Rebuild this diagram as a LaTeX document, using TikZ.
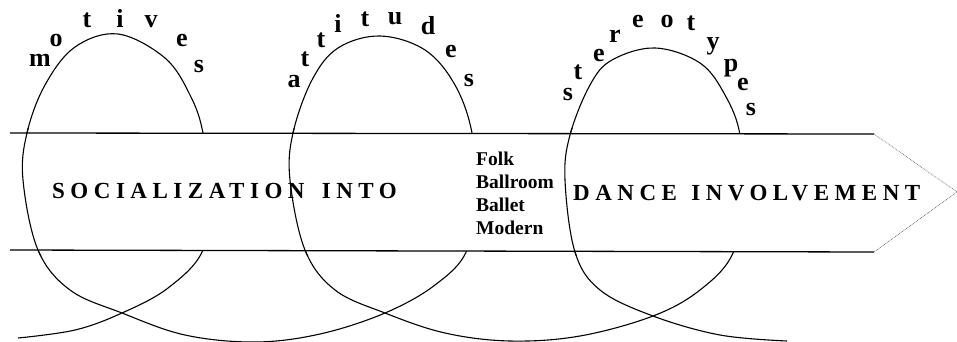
\documentclass[tikz,border=0pt]{standalone}
\usepackage{fontspec}
\setmainfont{Liberation Serif}
\usepackage{tikz}
\usetikzlibrary{positioning}
\tikzset{
    coil/.style={draw, line width=1.1pt},
    band/.style={draw, line width=1.3pt},
    tip/.style={draw, densely dotted, line width=0.7pt, black!60},
    letter/.style={font=\fontsize{26}{26}\selectfont\bfseries, inner sep=0pt, anchor=base},
    title/.style={font=\fontsize{23}{23}\selectfont\bfseries\addfontfeature{LetterSpace=24}, inner sep=0pt, anchor=base west},
    kinds/.style={font=\fontsize{19.5}{22.8}\selectfont\bfseries, align=left, inner sep=0pt, anchor=north west},
}
\def\coil{plot[smooth, tension=0.6] coordinates {
  (18,338) (75,330) (122,313) (168,288) (203,250) (209,192) (203,133) (190,95)
  (165,58) (118,34) (75,47) (45,85) (27,133) (23,180) (38,250) (70,290) (122,313)
  (185,335) (255,342) (320,334) (385,313) (435,285) (467,250) (475,190) (472,133)
  (455,85) (425,50) (380,36) (338,48) (312,80) (293,133) (290,180) (305,250)
  (335,290) (385,313) (445,333) (510,341) (580,336) (653,316) (700,290) (733,253)
  (742,195) (740,135) (725,95) (700,63) (655,48) (612,60) (590,85) (570,135)
  (565,180) (575,252) (600,290) (653,316) (720,335) (787,341)}}

\begin{document}
\begin{tikzpicture}[x=1pt, y=-1pt]
\useasboundingbox (0,0) rectangle (957,342);

% the coil
\draw[coil] \coil;

% the arrow band
\coordinate (tl) at (10,133);
\coordinate (tr) at (874,134);
\coordinate (tip) at (957,192);
\coordinate (br) at (874,252);
\coordinate (bl) at (10,250);
\fill[white] (tl) -- (tr) -- (tip) -- (br) -- (bl) -- cycle;
\draw[band] (tl) -- (tr);
\draw[band] (bl) -- (br);
\draw[tip] (tr) -- (tip) -- (br);

% left sides of the loops lie in front of the band
\begin{scope}
\clip (5,128) rectangle (70,256) (270,128) rectangle (325,256) (545,128) rectangle (600,256);
\draw[coil] \coil;
\end{scope}

% texts in the band
\node[title] (social) at (52,198) {SOCIALIZATION\hspace{6pt} INTO};
\node[title] (dance) at (573,200) {DANCE\hspace{3pt} INVOLVEMENT};
\node[kinds] (kinds) at (476,152) {Folk\\Ballroom\\Ballet\\Modern};

% motives
\node[letter] (mot1) at (40,67) {m};
\node[letter] (mot2) at (56,47) {o};
\node[letter] (mot3) at (87,28) {t};
\node[letter] (mot4) at (120,28) {i};
\node[letter] (mot5) at (151,28) {v};
\node[letter] (mot6) at (182,47) {e};
\node[letter] (mot7) at (199,73) {s};

% attitudes
\node[letter] (att1) at (294,88) {a};
\node[letter] (att2) at (305,67) {t};
\node[letter] (att3) at (321,48) {t};
\node[letter] (att4) at (338,33) {i};
\node[letter] (att5) at (365,27) {t};
\node[letter] (att6) at (395,25) {u};
\node[letter] (att7) at (428,35) {d};
\node[letter] (att8) at (451,58) {e};
\node[letter] (att9) at (469,87) {s};

% stereotypes
\node[letter] (ste1) at (568,100) {s};
\node[letter] (ste2) at (578,80) {t};
\node[letter] (ste3) at (599,62) {e};
\node[letter] (ste4) at (615,43) {r};
\node[letter] (ste5) at (638,28) {e};
\node[letter] (ste6) at (667,28) {o};
\node[letter] (ste7) at (691,31) {t};
\node[letter] (ste8) at (713,50) {y};
\node[letter] (ste9) at (731,72) {p};
\node[letter] (ste10) at (743,91) {e};
\node[letter] (ste11) at (751,115) {s};

\end{tikzpicture}
\end{document}
